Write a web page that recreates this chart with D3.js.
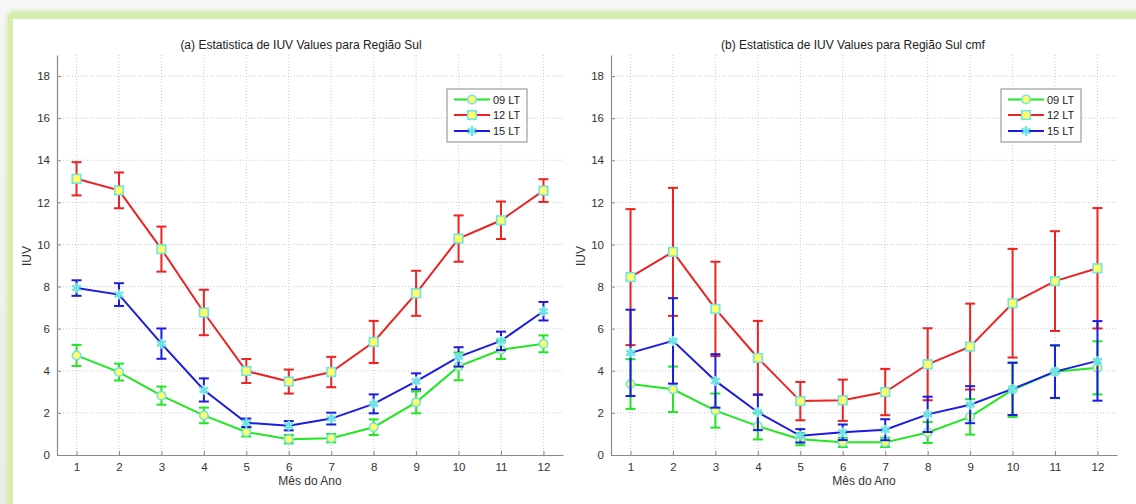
<!DOCTYPE html>
<html>
<head>
<meta charset="utf-8">
<script src="https://cdn.jsdelivr.net/npm/d3@7/dist/d3.min.js"></script>
<style>
html,body{margin:0;padding:0;background:#f2f2f2;}
svg{display:block;font-family:"Liberation Sans",Arial,sans-serif;}
</style>
</head>
<body>
<svg id="chart" width="1136" height="504"></svg>
<script>
const months = [1,2,3,4,5,6,7,8,9,10,11,12];
const yTicks = [0,2,4,6,8,10,12,14,16,18];
const seriesNames = ["09 LT","12 LT","15 LT"];

// (a) Região Sul
const a09Mean = [4.73,3.94,2.82,1.88,1.09,0.75,0.80,1.32,2.50,4.21,5.00,5.28];
const a09Err  = [0.50,0.40,0.43,0.37,0.21,0.20,0.20,0.37,0.52,0.66,0.44,0.40];
const a12Mean = [13.12,12.57,9.78,6.77,3.99,3.49,3.94,5.37,7.68,10.28,11.15,12.56];
const a12Err  = [0.79,0.85,1.07,1.08,0.57,0.57,0.72,1.00,1.07,1.10,0.89,0.54];
const a15Mean = [7.93,7.62,5.29,3.09,1.53,1.39,1.73,2.43,3.50,4.66,5.42,6.83];
const a15Err  = [0.37,0.54,0.72,0.55,0.20,0.22,0.28,0.45,0.38,0.46,0.44,0.44];

// (b) Região Sul cmf
const b09Mean = [3.37,3.12,2.11,1.37,0.75,0.60,0.60,1.07,1.81,3.10,3.95,4.14];
const b09Err  = [1.18,1.08,0.81,0.63,0.29,0.22,0.22,0.50,0.84,1.29,1.25,1.26];
const b12Mean = [8.45,9.65,6.94,4.61,2.56,2.60,2.99,4.31,5.15,7.21,8.26,8.87];
const b12Err  = [3.23,3.04,2.24,1.76,0.91,0.98,1.10,1.71,2.04,2.58,2.37,2.86];
const b15Mean = [4.85,5.42,3.52,2.03,0.91,1.08,1.20,1.93,2.39,3.14,3.96,4.47];
const b15Err  = [2.05,2.03,1.27,0.85,0.32,0.37,0.50,0.84,0.88,1.24,1.25,1.89];

const titleA = "(a) Estatistica de IUV Values para Região Sul";
const titleB = "(b) Estatistica de IUV Values para Região Sul cmf";
const xLabel = "Mês do Ano";
const yLabel = "IUV";

const colors = ["#22e622","#ee2222","#1c1ce0"];
const markFill = "#ffff66";
const markEdge = "#70e4e4";

const svg = d3.select("#chart");

// page frame
const defs = svg.append("defs");
const gTop = defs.append("linearGradient").attr("id","gtop").attr("x1",0).attr("y1",0).attr("x2",0).attr("y2",1);
gTop.append("stop").attr("offset","0%").attr("stop-color","#f6f6f6");
gTop.append("stop").attr("offset","100%").attr("stop-color","#ececec");
svg.append("rect").attr("x",0).attr("y",0).attr("width",1136).attr("height",504).attr("fill","url(#gtop)");
const blur = defs.append("filter").attr("id","blur").attr("x","-5%").attr("y","-5%").attr("width","110%").attr("height","110%");
blur.append("feGaussianBlur").attr("stdDeviation",2);
svg.append("rect").attr("x",7).attr("y",11).attr("width",1160).attr("height",520).attr("rx",7)
  .attr("fill","#d2eaa2").attr("filter","url(#blur)");
svg.append("rect").attr("x",8).attr("y",13).attr("width",1160).attr("height",520).attr("rx",6)
  .attr("fill","#d6ecac");
svg.append("rect").attr("x",13).attr("y",19).attr("width",1140).attr("height",500).attr("fill","#ffffff");

function panel(opts){
  const x = d3.scaleLinear().domain([0.54,12.46]).range([opts.x0, opts.x0+506]);
  const y = d3.scaleLinear().domain([0,19]).range([455,55]);
  const g = svg.append("g");

  // grid
  g.append("g").selectAll("line").data(months).join("line")
    .attr("x1",d=>x(d)).attr("x2",d=>x(d)).attr("y1",y(19)).attr("y2",y(0))
    .attr("stroke","#c8c8c8").attr("stroke-width",1).attr("stroke-dasharray","1,2");
  g.append("g").selectAll("line").data(yTicks.filter(d=>d>0)).join("line")
    .attr("x1",x.range()[0]).attr("x2",x.range()[1]).attr("y1",d=>y(d)).attr("y2",d=>y(d))
    .attr("stroke","#c8c8c8").attr("stroke-width",1).attr("stroke-dasharray","1,2");

  // axes
  const xAxis = d3.axisBottom(x).tickValues(months).tickSizeInner(-4).tickSizeOuter(0).tickPadding(8).tickFormat(d3.format("d"));
  const yAxis = d3.axisLeft(y).tickValues(yTicks).tickSizeInner(-4).tickSizeOuter(0).tickPadding(7).tickFormat(d3.format("d"));
  const gx = g.append("g").attr("transform",`translate(0,${y(0)})`).call(xAxis);
  const gy = g.append("g").attr("transform",`translate(${x.range()[0]},0)`).call(yAxis);
  [gx,gy].forEach(a=>{
    a.select(".domain").attr("stroke","#8a8a8a").attr("stroke-width",1.2);
    a.selectAll(".tick line").attr("stroke","#8a8a8a");
    a.selectAll(".tick text").attr("fill","#333").attr("font-size",11.5).attr("font-family","Liberation Sans, Arial, sans-serif");
  });

  // series
  const series = [
    {mean:opts.m09, err:opts.e09, color:colors[0], marker:"circle"},
    {mean:opts.m12, err:opts.e12, color:colors[1], marker:"square"},
    {mean:opts.m15, err:opts.e15, color:colors[2], marker:"star"}
  ];
  const line = d3.line().x((d,i)=>x(months[i])).y(d=>y(d));
  const cap = 5;
  function drawMarker(sel, type){
    if(type==="circle"){
      sel.append("circle").attr("r",4.2).attr("fill",markFill).attr("stroke",markEdge).attr("stroke-width",1.6);
    } else if(type==="square"){
      sel.append("rect").attr("x",-4.3).attr("y",-4.3).attr("width",8.6).attr("height",8.6)
        .attr("fill",markFill).attr("stroke",markEdge).attr("stroke-width",1.6);
    } else {
      sel.append("path").attr("d",d3.symbol(d3.symbolAsterisk,70)()).attr("fill","none")
        .attr("stroke",markEdge).attr("stroke-width",2.4);
    }
  }
  series.forEach(s=>{
    const sg = g.append("g");
    const eb = sg.append("g").selectAll("g").data(s.mean).join("g");
    eb.append("line").attr("x1",(d,i)=>x(months[i])).attr("x2",(d,i)=>x(months[i]))
      .attr("y1",(d,i)=>y(d-s.err[i])).attr("y2",(d,i)=>y(d+s.err[i]))
      .attr("stroke",s.color).attr("stroke-width",2);
    eb.append("line").attr("x1",(d,i)=>x(months[i])-cap).attr("x2",(d,i)=>x(months[i])+cap)
      .attr("y1",(d,i)=>y(d+s.err[i])).attr("y2",(d,i)=>y(d+s.err[i]))
      .attr("stroke",s.color).attr("stroke-width",2);
    eb.append("line").attr("x1",(d,i)=>x(months[i])-cap).attr("x2",(d,i)=>x(months[i])+cap)
      .attr("y1",(d,i)=>y(d-s.err[i])).attr("y2",(d,i)=>y(d-s.err[i]))
      .attr("stroke",s.color).attr("stroke-width",2);
    sg.append("path").datum(s.mean).attr("d",line).attr("fill","none").attr("stroke",s.color).attr("stroke-width",2);
    const mk = sg.append("g").selectAll("g").data(s.mean).join("g")
      .attr("transform",(d,i)=>`translate(${x(months[i])},${y(d)})`);
    drawMarker(mk, s.marker);
  });

  // titles & labels
  g.append("text").attr("x",opts.titleX).attr("y",49).attr("text-anchor","middle")
    .attr("font-size",12).attr("fill","#222").text(opts.title);
  g.append("text").attr("x",(x.range()[0]+x.range()[1])/2).attr("y",485).attr("text-anchor","middle")
    .attr("font-size",12).attr("fill","#333").text(xLabel);
  g.append("text").attr("transform",`translate(${opts.ylabX},256) rotate(-90)`).attr("text-anchor","middle")
    .attr("font-size",12).attr("fill","#333").text(yLabel);

  // legend
  const lx = opts.legX, ly = 89;
  const lg = g.append("g");
  lg.append("rect").attr("x",lx).attr("y",ly).attr("width",80).attr("height",53)
    .attr("fill","#fff").attr("stroke","#8a8a8a").attr("stroke-width",1);
  const rows = [99.5,115,131];
  series.forEach((s,i)=>{
    const r = lg.append("g").attr("transform",`translate(${lx},${rows[i]})`);
    r.append("line").attr("x1",7).attr("x2",43).attr("y1",0).attr("y2",0).attr("stroke",s.color).attr("stroke-width",2);
    const m = r.append("g").attr("transform","translate(25,0)");
    drawMarker(m, s.marker);
    r.append("text").attr("x",46).attr("y",4).attr("font-size",11).attr("fill","#222").text(seriesNames[i]);
  });
}

panel({x0:57, title:titleA, titleX:301, ylabX:31, legX:447,
  m09:a09Mean,e09:a09Err,m12:a12Mean,e12:a12Err,m15:a15Mean,e15:a15Err});
panel({x0:611, title:titleB, titleX:853, ylabX:585, legX:1001,
  m09:b09Mean,e09:b09Err,m12:b12Mean,e12:b12Err,m15:b15Mean,e15:b15Err});
</script>
</body>
</html>
